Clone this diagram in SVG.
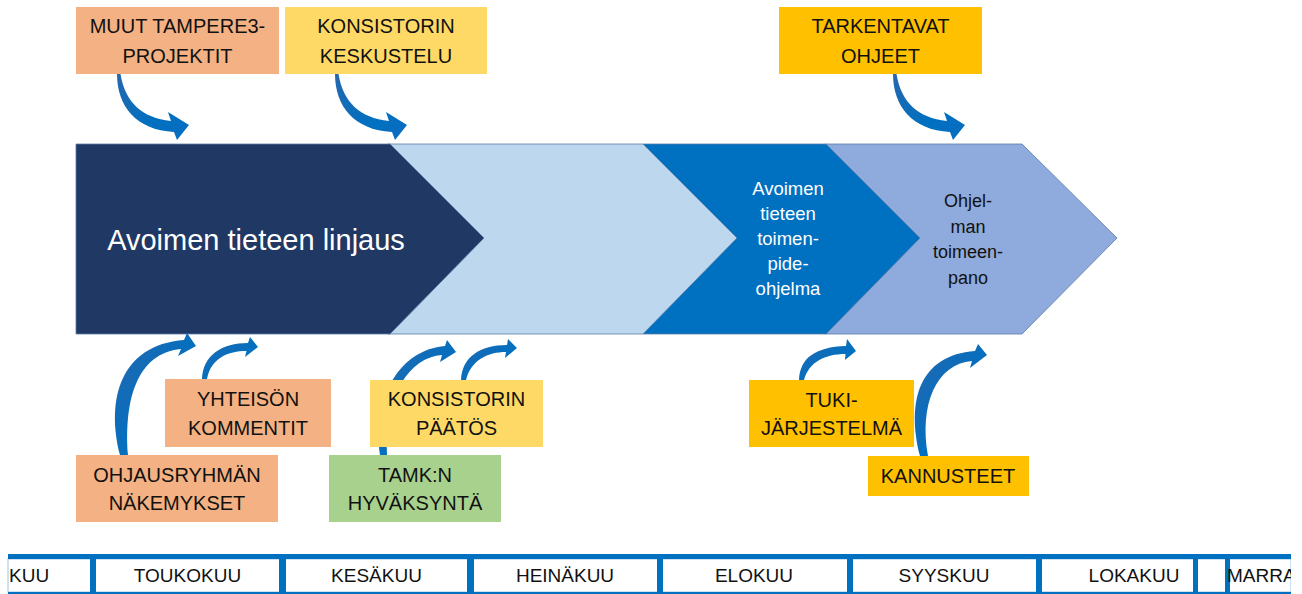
<svg xmlns="http://www.w3.org/2000/svg" width="1302" height="594" viewBox="0 0 1302 594">
<style>
.box{stroke:none}
.bt{font-family:"Liberation Sans",Arial,sans-serif;font-size:20px;fill:#111;text-anchor:middle}
.ct{font-family:"Liberation Sans",Arial,sans-serif;text-anchor:middle}
.tl{font-family:"Liberation Sans",Arial,sans-serif;font-size:19px;fill:#111;text-anchor:middle}
.tls{text-anchor:start}
.arr{fill:url(#ag)}
.chev{stroke:#5a7ca6;stroke-width:0.8}
.tb{fill:#0070C0}
</style>
<defs>
<linearGradient id="ag" x1="0" y1="0" x2="1" y2="1">
<stop offset="0" stop-color="#2767AE"/>
<stop offset="0.6" stop-color="#0070C0"/>
<stop offset="1" stop-color="#0A6CC0"/>
</linearGradient>
<clipPath id="tlclip"><rect x="0" y="540" width="1291" height="54"/></clipPath>
<path id="topArrow" d="M 117,74 C 117,106 136,130 174,132 L 177,140 L 189,125 L 168,112 L 171,121 C 142,118 125,102 120.5,74 Z"/>
</defs>
<rect width="1302" height="594" fill="#fff"/>

<g id="chevrons">
<g id="chev4"><polygon class="chev" fill="#8FAADC" points="825,144 1022,144 1117,238 1022,334 825,334"/>
<text class="ct" font-size="18" fill="#111"><tspan x="968" y="207">Ohjel-</tspan><tspan x="968" y="233">man</tspan><tspan x="968" y="258">toimeen-</tspan><tspan x="968" y="284">pano</tspan></text></g>
<g id="chev3"><polygon class="chev" fill="#0070C0" points="643,144 826,144 920,238 826,334 643,334"/>
<text class="ct" font-size="18.5" fill="#fff"><tspan x="788" y="195">Avoimen</tspan><tspan x="788" y="220">tieteen</tspan><tspan x="788" y="245">toimen-</tspan><tspan x="788" y="270">pide-</tspan><tspan x="788" y="295">ohjelma</tspan></text></g>
<g id="chev2"><polygon class="chev" fill="#BDD7EE" points="388,144 643,144 737,238 643,334 388,334"/></g>
<g id="chev1"><polygon class="chev" fill="#203864" points="76,144 390,144 484,238 390,334 76,334"/>
<text class="ct" font-size="29" fill="#fff" x="256" y="250">Avoimen tieteen linjaus</text></g>
</g>

<g id="connectors">
<use href="#topArrow" class="arr"/>
<use href="#topArrow" class="arr" transform="translate(218,0)"/>
<use href="#topArrow" class="arr" transform="translate(776,0)"/>
<path class="arr" d="M 120,455 C 106,400 120,345 184,340 L 187,333 L 196,346 L 178,356 L 181,349 C 137,353 124,400 128,455 Z"/>
<path class="arr" d="M 202,379 C 203,355 222,343 248,343 L 250,337 L 258,347 L 245,357 L 246.5,351 C 228,351 211,358 207,379 Z"/>
<path class="arr" d="M 380,455 C 373,395 400,350 445,346 L 447,340 L 456,352 L 440,362 L 442,355 C 410,357 384,395 387,455 Z"/>
<path class="arr" d="M 461,380 C 462,357 480,345 507,345 L 508,339 L 517,348 L 505,358 L 506,352 C 488,352 471,360 466,380 Z"/>
<path class="arr" d="M 799,380 C 800,358 815,347 846,346 L 847,339 L 856,351 L 845,360 L 845.5,354 C 825,354 809,362 804,380 Z"/>
<path class="arr" d="M 920,456 C 906,400 920,355 975,351 L 978,344 L 987,355 L 970,368 L 972,361 C 936,364 919,405 928,456 Z"/>
</g>

<g id="muut"><rect class="box" x="76" y="7" width="203" height="67" fill="#F4B183"/>
<text class="bt"><tspan x="177.5" y="33">MUUT TAMPERE3-</tspan><tspan x="177.5" y="63">PROJEKTIT</tspan></text></g>
<g id="konsistorin-keskustelu"><rect class="box" x="285" y="7" width="202" height="67" fill="#FFD966"/>
<text class="bt"><tspan x="386" y="33">KONSISTORIN</tspan><tspan x="386" y="63">KESKUSTELU</tspan></text></g>
<g id="tarkentavat"><rect class="box" x="779" y="7" width="203" height="67" fill="#FFC000"/>
<text class="bt"><tspan x="880.5" y="33">TARKENTAVAT</tspan><tspan x="880.5" y="63">OHJEET</tspan></text></g>
<g id="yhteison"><rect class="box" x="165" y="379" width="166" height="68" fill="#F4B183"/>
<text class="bt"><tspan x="248" y="406">YHTEISÖN</tspan><tspan x="248" y="435">KOMMENTIT</tspan></text></g>
<g id="ohjausryhman"><rect class="box" x="76" y="455" width="202" height="67" fill="#F4B183"/>
<text class="bt"><tspan x="177" y="482">OHJAUSRYHMÄN</tspan><tspan x="177" y="510">NÄKEMYKSET</tspan></text></g>
<g id="konsistorin-paatos"><rect class="box" x="370" y="380" width="173" height="67" fill="#FFD966"/>
<text class="bt"><tspan x="456.5" y="406">KONSISTORIN</tspan><tspan x="456.5" y="435">PÄÄTÖS</tspan></text></g>
<g id="tamk"><rect class="box" x="329" y="455" width="172" height="67" fill="#A9D18E"/>
<text class="bt"><tspan x="415" y="482">TAMK:N</tspan><tspan x="415" y="510">HYVÄKSYNTÄ</tspan></text></g>
<g id="tuki"><rect class="box" x="749" y="380" width="165" height="67" fill="#FFC000"/>
<text class="bt"><tspan x="831.5" y="407">TUKI-</tspan><tspan x="831.5" y="435">JÄRJESTELMÄ</tspan></text></g>
<g id="kannusteet"><rect class="box" x="868" y="456" width="161" height="40" fill="#FFC000"/>
<text class="bt" x="948" y="483">KANNUSTEET</text></g>

<g id="timeline" clip-path="url(#tlclip)">
<rect x="8" y="559" width="1283" height="33" fill="#fff" stroke="#9DC3E6" stroke-width="1"/>
<rect class="tb" x="8" y="554" width="1283" height="5"/>
<rect class="tb" x="8" y="592" width="1283" height="2"/>
<rect class="tb" x="90" y="554" width="6" height="40"/>
<rect class="tb" x="279" y="554" width="7" height="40"/>
<rect class="tb" x="467" y="554" width="7" height="40"/>
<rect class="tb" x="657" y="554" width="6" height="40"/>
<rect class="tb" x="847" y="554" width="6" height="40"/>
<rect class="tb" x="1036" y="554" width="6" height="40"/>
<rect class="tb" x="1193" y="554" width="5" height="40"/>
<rect class="tb" x="1225" y="554" width="5" height="40"/>
<text class="tl tls" x="9" y="582">KUU</text>
<text class="tl" x="187.5" y="582">TOUKOKUU</text>
<text class="tl" x="376.5" y="582">KESÄKUU</text>
<text class="tl" x="565" y="582">HEINÄKUU</text>
<text class="tl" x="754" y="582">ELOKUU</text>
<text class="tl" x="944" y="582">SYYSKUU</text>
<text class="tl" x="1134" y="582">LOKAKUU</text>
<text class="tl tls" x="1227" y="582">MARRA</text>
</g>
</svg>
